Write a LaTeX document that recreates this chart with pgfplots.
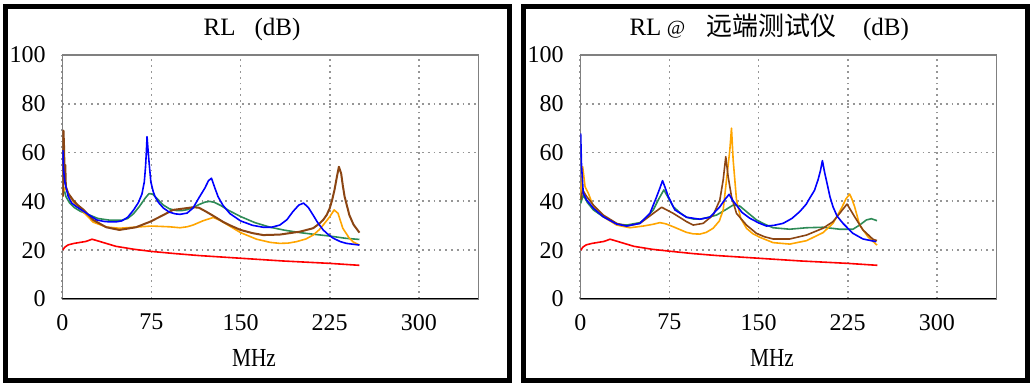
\documentclass[border=0pt]{standalone}
\usepackage{fontspec}
\setmainfont{Liberation Serif}
\newfontfamily\cjk{Noto Sans CJK SC}
\usepackage{pgfplots}
\pgfplotsset{compat=1.18}
\definecolor{cBlue}{RGB}{0,0,255}
\definecolor{cGreen}{RGB}{46,139,87}
\definecolor{cBrown}{RGB}{139,69,19}
\definecolor{cOrange}{RGB}{255,165,0}
\definecolor{cRed}{RGB}{255,0,0}
\definecolor{cGrid}{RGB}{150,150,150}
\definecolor{cFrame}{RGB}{128,128,128}
\pgfplotsset{
  rlaxis/.style={
    scale only axis, width=416pt, height=244pt, anchor=south west,
    xmin=0, xmax=350, ymin=0, ymax=100,
    xtick={0,75,150,225,300}, ytick={0,20,40,60,80,100},
    major tick length=0pt,
    grid=major,
    major grid style={cGrid, line width=1.8pt, dash pattern=on 1.8pt off 4pt},
    axis line style={cFrame, line width=1.2pt},
    tick label style={font=\fontsize{24}{28}\selectfont, inner sep=0pt},
    xticklabel shift=15pt, yticklabel shift=16.5pt,
    /pgf/number format/assume math mode=true,
    every axis plot/.append style={line width=1.6pt, line join=round},
    clip=true,
  }
}
\begin{document}
\begin{tikzpicture}
\useasboundingbox (0pt,0pt) rectangle (1033pt,385pt);
% panel borders
\draw[black, line width=5pt] (5.5pt,4.5pt) rectangle (509.5pt,378.5pt);
\draw[black, line width=5pt] (523.5pt,4.5pt) rectangle (1027.5pt,378.5pt);

% ---------------- left panel ----------------
\begin{axis}[rlaxis, at={(62.3pt,86pt)}]
\addplot[cRed] coordinates {(0.5,20.1)(2,21.2)(5,22.2)(10,22.8)(15,23.2)(20,23.6)(25,24.5)(30,23.8)(45,21.6)(60,20.4)(75,19.5)(95,18.6)(115,17.8)(150,16.7)(185,15.6)(225,14.6)(250,13.8)};
\addplot[cGreen] coordinates {(1,46)(3,42)(6,39.5)(10,37.5)(15,36)(20,35)(30,33)(40,32.3)(50,32.3)(55,33)(60,35)(65,38)(70,41.5)(73,43.2)(76,43)(80,41)(85,38.5)(90,37)(95,36.3)(100,36.2)(105,36.6)(110,37.5)(115,38.7)(120,39.7)(124,40)(128,39.6)(133,38.4)(140,36.3)(150,33.8)(162,31.3)(175,29.4)(187,28.2)(200,27.2)(212,26.5)(225,25.8)(238,24.9)(250,24.4)};
\addplot[cOrange] coordinates {(1,44)(3,46)(5,43)(9,40)(13,38)(18,35.5)(26,31.5)(37,29.5)(48,29)(60,29.4)(75,29.9)(90,29.6)(99,29.2)(105,29.6)(110,30.3)(118.6,32.1)(127,33.4)(132,32.4)(138,30.7)(150,27.2)(163.5,24.5)(175,23.2)(183,22.8)(190,22.9)(197,23.5)(205,24.6)(211,26.2)(216,28.3)(219.5,30.3)(225,33.7)(228.7,36.5)(232,35.1)(234,32)(236,29)(241.5,24.9)(245,23.3)(250,22.1)};
\addplot[cBrown, line width=2pt] coordinates {(0.5,42)(1,69)(1.5,62)(2,48)(2.5,55)(3,46)(5,43.3)(9,40.6)(13,38.5)(18,36.5)(26,32.4)(37,29.4)(48,28.3)(62,29.4)(74,31.7)(85,34.4)(93,36.5)(104,37.2)(110,37.6)(115,37.4)(121,35.8)(128,33.8)(135,31.7)(142,30)(150,28.3)(160,27)(169,26.2)(183,26.4)(200,27.6)(211,29)(216,30.8)(219.5,32.4)(222.5,34.5)(225,37.2)(227,40.5)(229,44.7)(231,50)(232.7,54.2)(234.6,51.5)(236,46.5)(237.5,42)(241.5,34.4)(245,30.5)(250,27.2)};
\addplot[cBlue] coordinates {(0.5,61)(1,53)(2.3,47.5)(5,42)(7.9,39.3)(12,37.8)(20.5,35.1)(29,32.4)(35,31.8)(40,31.6)(45,31.6)(50,32)(55,33.5)(60,36.5)(64,39.5)(67,43)(69,48)(70,54)(70.7,60)(71.3,66.5)(72,62)(73,56)(74.5,48)(76.5,44)(78,42)(81,39.5)(85,37.3)(90,35.6)(95,34.9)(99,34.7)(105,35.2)(110,37.3)(115,41.5)(120,45.5)(123,48.5)(125.5,49.5)(128,46)(131,42)(135,38.5)(141,35)(150,32)(160,30.2)(169,29.4)(176,29.4)(183,30.3)(189,32.5)(194,35.8)(199,38.5)(203,39.3)(207,37.5)(211,34.4)(215,31.2)(219.5,28.3)(224,26.3)(228,24.9)(234,23.5)(239,22.8)(250,22.1)};
\draw[black, line width=2pt] (rel axis cs:0,0) -- (rel axis cs:1,0);
\end{axis}

% ---------------- right panel ----------------
\begin{axis}[rlaxis, at={(580.3pt,86pt)}]
\addplot[cRed] coordinates {(0.5,20)(2,21.2)(5,22.2)(10,22.8)(15,23.2)(20,23.6)(25,24.5)(30,23.8)(45,21.6)(60,20.4)(75,19.6)(95,18.6)(115,17.8)(150,16.7)(185,15.6)(225,14.6)(250,13.8)};
\addplot[cGreen] coordinates {(0.3,39.2)(2.5,42.6)(6,39.5)(11,36.5)(19.3,33.7)(30,30.8)(39,30.3)(50.2,31.3)(56,33.5)(61.4,36.5)(66,41)(70.3,44.7)(74,41.5)(78.2,37.8)(84,35.3)(89.4,33.5)(95,32.8)(100.6,32.7)(107,33.4)(114.6,34.4)(122,36.5)(128.6,38.5)(134.2,38.1)(139.8,35.8)(148.2,32.4)(155,30.7)(162.2,29.2)(176.2,28.6)(190.3,29.2)(204.2,29.4)(218.2,28.6)(229.4,28.6)(235,30.3)(240.7,32.4)(244.9,32.9)(249.6,32.1)};
\addplot[cOrange] coordinates {(0.3,42)(2,54.2)(4,46)(6.8,43.3)(11,37.8)(19.3,33.7)(30.6,30.3)(41.8,29.2)(53,29.9)(61,30.6)(67,31.3)(72,30.8)(78.2,29.6)(89.4,27.3)(95,26.7)(100.6,26.6)(106,27.3)(111.8,29)(117,32)(120.2,36.5)(123,48.8)(125.8,61)(127.2,70)(128.6,57)(131.4,40.6)(135,33)(139.8,29)(145,26.8)(151,25.3)(162.2,23.1)(176.2,22.5)(190.3,23.9)(204.2,27.2)(212.6,31)(219.7,37.2)(223.5,41)(226.6,43)(228.5,41)(230.8,37.8)(235,30.3)(242,25.5)(249.6,22.1)};
\addplot[cBrown] coordinates {(0.3,40.6)(2,44.7)(5.3,42)(11,38.5)(19.3,34.4)(30.6,31)(39,29.9)(50.2,31)(61.4,35.1)(68.4,37.6)(78.2,35.1)(89.4,31.7)(95,30.3)(103.4,31)(111.8,34.4)(117.4,40.6)(120.2,48.8)(122.4,58.3)(124.4,50.1)(127.2,42)(131.4,35.1)(139.8,30.3)(148.2,26.9)(155,25.5)(162.2,24.6)(176.2,24.6)(190.3,26.2)(204.2,29)(212.6,31.7)(218.2,35.1)(224.4,38.9)(230.8,33.7)(237.8,28.3)(246.2,24.5)(249.6,23.9)};
\addplot[cBlue] coordinates {(0.3,67.9)(1,55)(2.5,43.3)(5.3,40.6)(11,37.2)(19.3,33.7)(30.6,30.7)(39,29.9)(50.2,31)(58.6,35.1)(64.2,41.9)(67,45.5)(69.2,48.5)(71.5,45.5)(74,42)(79.6,36.5)(89.4,33.5)(100.6,32.7)(109,33.5)(117.4,37.8)(122,41)(125.2,42.9)(128,40.5)(131.4,38.5)(136,35.5)(142.6,33.1)(150,31.2)(156.6,29.9)(163,30.2)(170.6,31)(178,33)(184.6,35.8)(190,38.8)(193,41.3)(197,44.5)(200,48.8)(202,52.5)(203.7,56.7)(205.5,52)(207.6,47.4)(210,42)(212.6,37.8)(216,34)(221,31)(229.4,26.9)(237.8,24.6)(249,23.5)};
\draw[black, line width=2pt] (rel axis cs:0,0) -- (rel axis cs:1,0);
\end{axis}

% titles
\node[anchor=base, inner sep=0pt, font=\fontsize{25}{30}\selectfont] at (252pt,349pt) {RL\hspace{19pt}(dB)};
\node[anchor=base, inner sep=0pt, font=\fontsize{25}{30}\selectfont] at (645.5pt,349pt) {RL};
\node[anchor=base, inner sep=0pt, font=\fontsize{20}{24}\selectfont] at (676pt,350pt) {@};
\node[anchor=base, inner sep=0pt, font=\fontsize{26}{30}\selectfont\cjk] at (771.5pt,349pt) {远端测试仪};
\node[anchor=base, inner sep=0pt, font=\fontsize{25}{30}\selectfont] at (886pt,349pt) {(dB)};
% x labels
\node[anchor=base, inner sep=0pt, font=\fontsize{26}{30}\selectfont] at (254pt,18.5pt) {\scalebox{0.82}[1]{MHz}};
\node[anchor=base, inner sep=0pt, font=\fontsize{26}{30}\selectfont] at (772pt,18.5pt) {\scalebox{0.82}[1]{MHz}};
\end{tikzpicture}
\end{document}
